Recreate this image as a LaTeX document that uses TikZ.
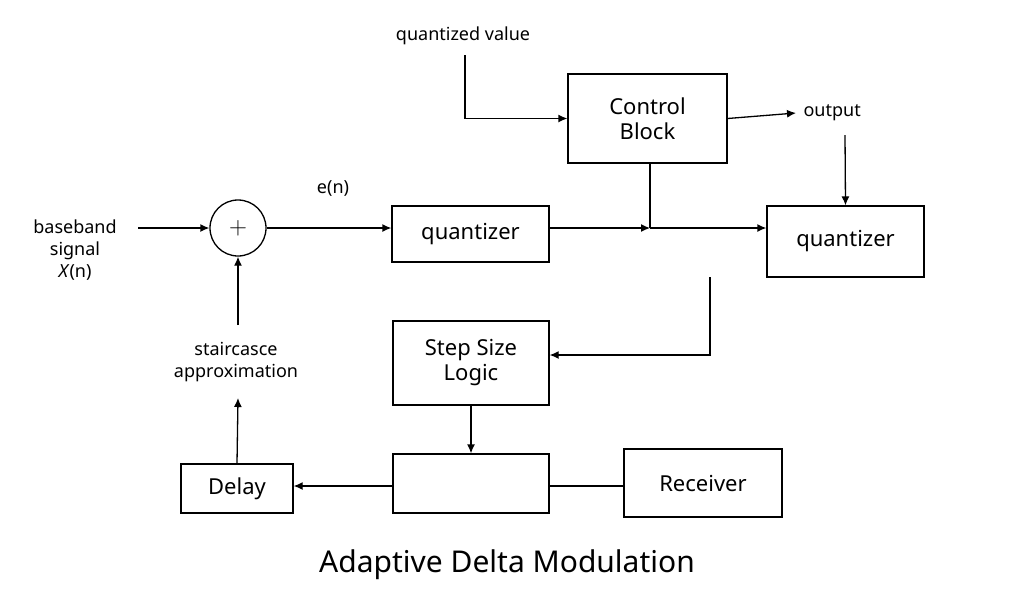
\documentclass[tikz,border=0pt]{standalone}
\usepackage{fontspec}
\setmainfont{Noto Sans}
\usetikzlibrary{arrows.meta}
\begin{document}
\begin{tikzpicture}[x=1pt,y=-1pt,
  box/.style={draw,line width=1.3pt,inner sep=0pt,align=center,font=\fontsize{22}{25}\selectfont\bfseries},
  lbl/.style={align=center,font=\fontsize{18}{22}\selectfont\bfseries},
  arr/.style={line width=1.3pt,-{Latex[length=9pt,width=8pt]}},
  ln/.style={line width=1.3pt}]
\useasboundingbox (0,0) rectangle (1024,590);
\node[lbl] (qv) at (463,36) {quantized value};
\node[box,minimum width=159pt,minimum height=89pt] (cb) at (647.5,118.5) {Control\\Block};
\node[lbl,anchor=west] (out) at (800,113) {output};
\node[box,minimum width=157pt,minimum height=71pt] (q2) at (845.5,241.5) {quantizer};
\node[box,minimum width=157pt,minimum height=56pt] (q1) at (470.5,234) {quantizer};
\node[draw,circle,line width=1.3pt,minimum size=56pt,inner sep=0pt,font=\fontsize{24}{24}\selectfont] (s) at (238,228) {$+$};
\node[lbl] (bb) at (75,250) {baseband\\signal\\\textit{X}(n)};
\node[lbl] (en) at (333,188) {e(n)};
\node[lbl] (sc) at (236,362) {staircasce\\approximation};
\node[box,minimum width=112pt,minimum height=49pt] (dl) at (237,488.5) {Delay};
\node[box,minimum width=156pt,minimum height=59pt] (mb) at (471,483.5) {};
\node[box,minimum width=158pt,minimum height=68pt] (rc) at (703,483) {Receiver};
\node[box,minimum width=156pt,minimum height=84pt] (ss) at (471,363) {Step Size\\Logic};
\node[font=\fontsize{30}{34}\selectfont\bfseries] (t) at (507,565) {Adaptive Delta Modulation};
\coordinate (j) at (650,228);
\draw[arr] (465,55) |- (cb.west);
\draw[arr] (cb.east) -- (796,113);
\draw[arr] (845,135) -- (q2.north);
\draw[ln] (650,163) -- (j);
\draw[arr] (q1.east |- j) -- (j);
\draw[arr] (j) -- (q2.west |- j);
\draw[arr] (138,228) -- (s.west);
\draw[arr] (s.east) -- (q1.west |- s);
\draw[arr] (238,325) -- (s.south);
\draw[arr] (dl.north) -- (238,398);
\draw[arr] (mb.west |- 0,486) -- (dl.east |- 0,486);
\draw[ln] (mb.east |- 0,486) -- (rc.west |- 0,486);
\draw[arr] (ss.south) -- (mb.north);
\draw[arr] (710,277) |- (ss.east |- 0,355);
\end{tikzpicture}
\end{document}
